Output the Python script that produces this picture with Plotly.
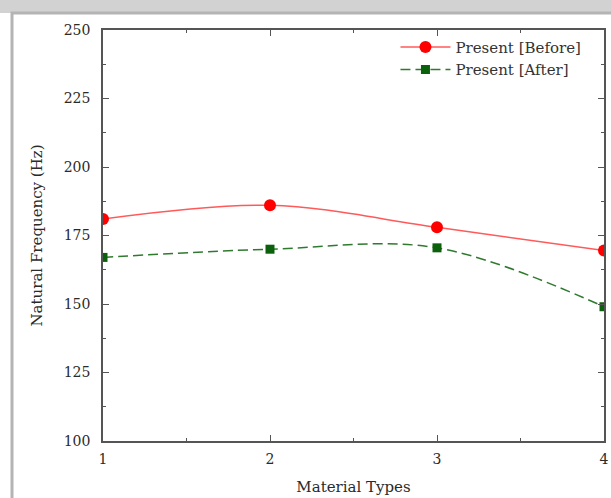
import plotly.graph_objects as go

material_types = [1, 2, 3, 4]
before_hz = [181, 186, 178, 169.5]
after_hz = [167, 170, 170.5, 149]
series_names = ["Present [Before]", "Present [After]"]

FONT = "DejaVu Serif"
AXC = "#555555"
TXT = "#2a2a2a"

# plot area in pixels: x 103..604, y 30..441
PW, PH = 501, 411

fig = go.Figure()
fig.add_trace(go.Scatter(
    x=material_types, y=before_hz, name=series_names[0],
    mode="lines+markers", line=dict(color="#ff5a5a", width=1.5, shape="spline"),
    marker=dict(color="#ff0000", size=12, symbol="circle"),
))
fig.add_trace(go.Scatter(
    x=material_types, y=after_hz, name=series_names[1],
    mode="lines+markers", line=dict(color="#2f7a2f", width=1.5, shape="spline", dash="10px,5px"),
    marker=dict(color="#0b610b", size=9, symbol="square"),
))

axis_common = dict(
    showline=True, linecolor=AXC, linewidth=1.5, mirror="ticks",
    ticks="inside", tickcolor=AXC, ticklen=6, tickwidth=1,
    showgrid=False, zeroline=False, automargin=False,
    tickfont=dict(family=FONT, size=14, color=TXT),
)
fig.update_xaxes(
    range=[1, 4], tickvals=material_types, ticktext=["1", "2", "3", "4"],
    title=dict(text="Material Types", font=dict(family=FONT, size=15, color=TXT), standoff=16),
    minor=dict(dtick=0.5, ticks="inside", ticklen=3, tickcolor=AXC),
    ticklabelstandoff=4,
    **axis_common,
)
fig.update_yaxes(
    range=[100, 250], dtick=25,
    title=dict(text="Natural Frequency (Hz)", font=dict(family=FONT, size=15, color=TXT), standoff=17),
    minor=dict(dtick=12.5, ticks="inside", ticklen=3, tickcolor=AXC),
    ticklabelstandoff=8,
    **axis_common,
)

# gray band at top (page background behind the framed figure)
fig.add_shape(type="rect", xref="paper", yref="paper",
              x0=-103 / PW, x1=1 + 7 / PW, y0=1 + 17 / PH, y1=1 + 31 / PH,
              line=dict(width=0), fillcolor="#d2d2d2", layer="below")
# outer gray frame
fig.add_shape(type="rect", xref="paper", yref="paper",
              x0=-91 / PW, x1=1.2, y0=-0.3, y1=1 + 17 / PH,
              line=dict(color="#b4b4b4", width=3), fillcolor="white", layer="below")

fig.update_layout(
    width=611, height=498,
    margin=dict(l=103, r=7, t=30, b=57, autoexpand=False),
    paper_bgcolor="white", plot_bgcolor="rgba(0,0,0,0)",
    font=dict(family=FONT, size=14, color=TXT),
    showlegend=True,
    legend=dict(x=0.965, y=0.998, xanchor="right", yanchor="top",
                bgcolor="rgba(0,0,0,0)", font=dict(family=FONT, size=15, color="#333"),
                tracegroupgap=0, itemwidth=50),
)

fig.write_html("out.html", config={"displayModeBar": False},
               post_script="document.body.style.margin='0';document.body.style.overflow='hidden';")
